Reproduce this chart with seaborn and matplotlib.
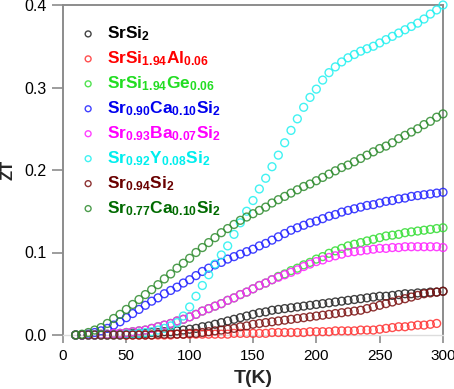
import matplotlib
matplotlib.use('agg')
import matplotlib.pyplot as plt
import seaborn as sns
import numpy as np

# temperature grid (K)
T = list(range(10, 305, 5))
T_AL = list(range(10, 300, 5))

# ZT values, rows of 10 points (10-55, 60-105, ...)
SRSI2 = [0, 0, 0, 0, 0, 0, 0.001, 0.001, 0.001, 0.002,
         0.002, 0.002, 0.003, 0.003, 0.004, 0.004, 0.005, 0.006, 0.007, 0.008,
         0.010, 0.011, 0.013, 0.015, 0.017, 0.019, 0.021, 0.023, 0.025, 0.027,
         0.028, 0.030, 0.031, 0.032, 0.033, 0.034, 0.035, 0.036, 0.037, 0.038,
         0.039, 0.040, 0.041, 0.042, 0.043, 0.044, 0.045, 0.046, 0.047, 0.047,
         0.048, 0.049, 0.050, 0.050, 0.051, 0.051, 0.052, 0.052, 0.053]

AL = [0, 0, 0, 0, 0, 0, 0, 0, 0, 0,
      0, 0, 0, 0, 0, 0, 0.001, 0.001, 0.001, 0.001,
      0.001, 0.001, 0.001, 0.001, 0.001, 0.002, 0.002, 0.002, 0.002, 0.002,
      0.002, 0.003, 0.003, 0.003, 0.003, 0.003, 0.003, 0.004, 0.004, 0.004,
      0.004, 0.005, 0.005, 0.005, 0.005, 0.006, 0.006, 0.006, 0.007, 0.008,
      0.009, 0.010, 0.010, 0.011, 0.012, 0.012, 0.013, 0.014]

GE = [0, 0, 0, 0, 0.001, 0.001, 0.002, 0.002, 0.003, 0.004,
      0.005, 0.006, 0.008, 0.010, 0.012, 0.014, 0.017, 0.019, 0.022, 0.025,
      0.029, 0.032, 0.035, 0.038, 0.042, 0.045, 0.049, 0.052, 0.056, 0.060,
      0.063, 0.067, 0.071, 0.074, 0.078, 0.081, 0.085, 0.088, 0.092, 0.095,
      0.099, 0.102, 0.105, 0.108, 0.110, 0.112, 0.114, 0.116, 0.118, 0.120,
      0.121, 0.122, 0.124, 0.125, 0.126, 0.127, 0.128, 0.129, 0.130]

CA = [0, 0, 0.001, 0.003, 0.005, 0.008, 0.012, 0.016, 0.021, 0.026,
      0.031, 0.036, 0.041, 0.045, 0.050, 0.054, 0.058, 0.063, 0.067, 0.072,
      0.077, 0.081, 0.085, 0.088, 0.092, 0.095, 0.098, 0.101, 0.104, 0.108,
      0.111, 0.115, 0.119, 0.123, 0.127, 0.130, 0.133, 0.136, 0.138, 0.141,
      0.144, 0.146, 0.149, 0.151, 0.153, 0.155, 0.157, 0.158, 0.160, 0.162,
      0.163, 0.165, 0.166, 0.168, 0.169, 0.170, 0.171, 0.172, 0.173]

BA = [0, 0, 0, 0, 0.001, 0.001, 0.002, 0.002, 0.003, 0.004,
      0.005, 0.006, 0.008, 0.010, 0.012, 0.014, 0.017, 0.019, 0.022, 0.025,
      0.029, 0.032, 0.035, 0.038, 0.042, 0.045, 0.049, 0.052, 0.056, 0.060,
      0.063, 0.067, 0.070, 0.073, 0.076, 0.079, 0.083, 0.086, 0.089, 0.091,
      0.094, 0.096, 0.098, 0.100, 0.101, 0.102, 0.103, 0.104, 0.105, 0.105,
      0.106, 0.106, 0.107, 0.107, 0.107, 0.107, 0.107, 0.107, 0.106]

Y = [0, 0, 0, 0, 0, 0, 0, 0, 0.001, 0.001,
     0.002, 0.003, 0.004, 0.006, 0.008, 0.011, 0.015, 0.023, 0.034, 0.047,
     0.060, 0.073, 0.086, 0.097, 0.108, 0.122, 0.136, 0.150, 0.163, 0.177,
     0.190, 0.204, 0.218, 0.233, 0.248, 0.262, 0.276, 0.288, 0.298, 0.309,
     0.318, 0.325, 0.331, 0.336, 0.340, 0.344, 0.347, 0.350, 0.354, 0.358,
     0.362, 0.366, 0.370, 0.374, 0.378, 0.383, 0.389, 0.394, 0.400]

SR094 = [0, 0, 0, 0, 0, 0, 0, 0, 0, 0,
         0, 0, 0, 0.001, 0.001, 0.001, 0.001, 0.001, 0.002, 0.002,
         0.003, 0.004, 0.005, 0.006, 0.007, 0.008, 0.010, 0.011, 0.013, 0.014,
         0.015, 0.016, 0.017, 0.018, 0.019, 0.020, 0.021, 0.022, 0.023, 0.024,
         0.025, 0.026, 0.027, 0.028, 0.029, 0.030, 0.032, 0.034, 0.036, 0.038,
         0.040, 0.042, 0.044, 0.046, 0.048, 0.050, 0.051, 0.052, 0.053]

CA077 = [0, 0.001, 0.003, 0.006, 0.009, 0.014, 0.020, 0.025, 0.031, 0.037,
         0.043, 0.049, 0.055, 0.061, 0.068, 0.074, 0.081, 0.087, 0.093, 0.100,
         0.106, 0.112, 0.118, 0.124, 0.129, 0.134, 0.139, 0.143, 0.147, 0.151,
         0.155, 0.160, 0.164, 0.168, 0.172, 0.176, 0.180, 0.183, 0.187, 0.191,
         0.195, 0.199, 0.203, 0.206, 0.210, 0.214, 0.218, 0.222, 0.226, 0.229,
         0.233, 0.238, 0.242, 0.246, 0.250, 0.255, 0.259, 0.264, 0.268]

LABELS = [r'SrSi$_{2}$',
          r'SrSi$_{1.94}$Al$_{0.06}$',
          r'SrSi$_{1.94}$Ge$_{0.06}$',
          r'Sr$_{0.90}$Ca$_{0.10}$Si$_{2}$',
          r'Sr$_{0.93}$Ba$_{0.07}$Si$_{2}$',
          r'Sr$_{0.92}$Y$_{0.08}$Si$_{2}$',
          r'Sr$_{0.94}$Si$_{2}$',
          r'Sr$_{0.77}$Ca$_{0.10}$Si$_{2}$']

MARKER_COLORS = ['#222222', '#ff3030', '#33dd33', '#2020ff',
                 '#ff20ff', '#20f0f0', '#7a1010', '#2e8b2e']
TEXT_COLORS = ['#000000', '#ff0000', '#22dd22', '#0000ee',
               '#ff00ff', '#00eeee', '#6a0000', '#006a00']

GRAY = '#8c8c8c'


def setup():
  sns.set_style('white')
  matplotlib.rcParams['font.family'] = 'Liberation Sans'
  matplotlib.rcParams['mathtext.fontset'] = 'custom'
  matplotlib.rcParams['mathtext.rm'] = 'Liberation Sans:bold'
  matplotlib.rcParams['mathtext.bf'] = 'Liberation Sans:bold'
  matplotlib.rcParams['mathtext.default'] = 'bf'


def format_axes(ax):
    for side in ['left', 'right', 'top']:
        ax.spines[side].set_color(GRAY)
        ax.spines[side].set_linewidth(1.4)
    ax.spines['bottom'].set_color('#dddddd')
    ax.spines['bottom'].set_linewidth(1.0)
    ax.set_xlim(0, 300)
    ax.set_ylim(0, 0.4)
    ax.set_xticks([0, 50, 100, 150, 200, 250, 300])
    ax.set_yticks([0.0, 0.1, 0.2, 0.3, 0.4])
    ax.set_yticklabels(['0.0', '0.1', '0.2', '0.3', '0.4'])
    ax.tick_params(axis='both', which='major', direction='out', length=6,
                   width=1.2, color=GRAY, labelsize=11.5, labelcolor='black',
                   pad=4, left=True, bottom=True)
    ax.tick_params(axis='y', length=8)
    ax.tick_params(axis='x', labelsize=11)
    ax.set_xlabel('T(K)', fontsize=14, fontweight='bold', labelpad=5)
    ax.set_ylabel('ZT', fontsize=12, fontweight='bold', labelpad=6)


setup()
fig = plt.figure(figsize=[4.54, 3.89], dpi=100)
ax = fig.add_axes([63 / 454, 1 - 335 / 389, 380 / 454, 330 / 389])

series = [(T, SRSI2), (T_AL, AL), (T, GE), (T, CA), (T, BA), (T, Y), (T, SR094), (T, CA077)]

for i, (x, y) in enumerate(series):
    sns.scatterplot(x=x, y=y, ax=ax, marker='o', s=32, color=MARKER_COLORS[i],
                    facecolor='none', edgecolor=MARKER_COLORS[i], linewidth=1.0,
                    alpha=0.85, label=LABELS[i], clip_on=False, zorder=3)

format_axes(ax)

leg = ax.legend(loc='upper left', bbox_to_anchor=(0.025, 0.962), frameon=False,
                fontsize=12.5, handletextpad=0.6, labelspacing=0.36,
                handlelength=1.0, markerscale=0.75, borderaxespad=0)
for i, text in enumerate(leg.get_texts()):
    text.set_color(TEXT_COLORS[i])
    text.set_fontweight('bold')

fig.savefig('out.png', dpi=100)
